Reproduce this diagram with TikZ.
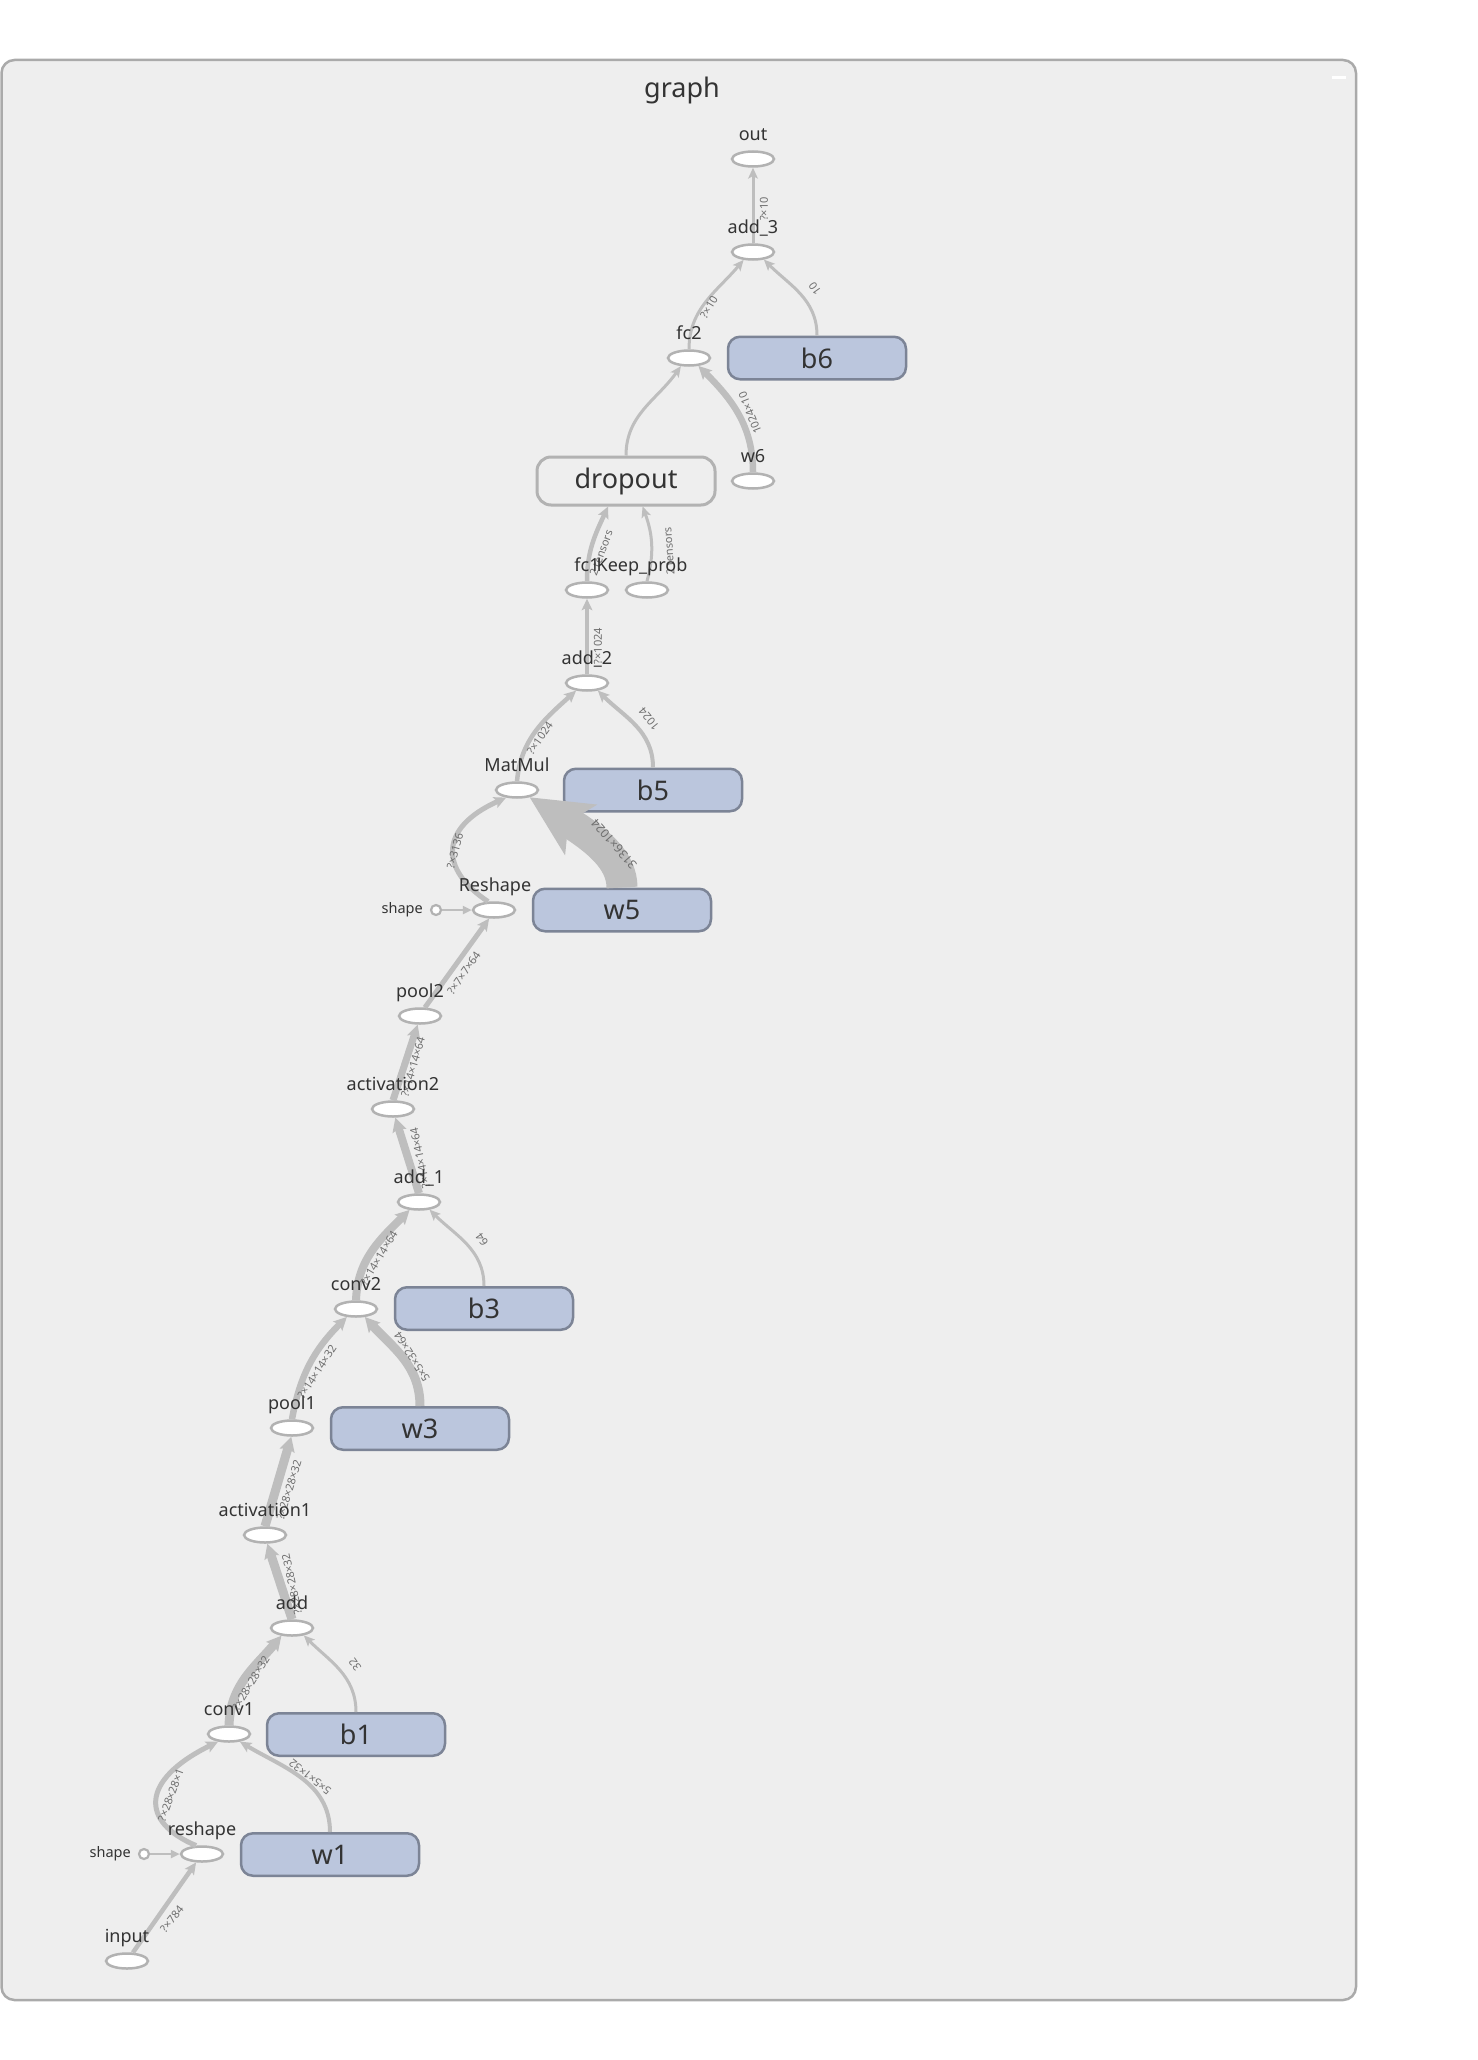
\documentclass[tikz,border=0pt]{standalone}
\usepackage{fontspec}
\setmainfont{Noto Sans}
\usetikzlibrary{arrows.meta,shapes.geometric}
\definecolor{bgc}{RGB}{238,238,238}
\definecolor{framec}{RGB}{170,170,170}
\definecolor{ellc}{RGB}{178,178,178}
\definecolor{edgec}{RGB}{190,190,190}
\definecolor{pfill}{RGB}{187,198,221}
\definecolor{pdraw}{RGB}{124,132,150}
\definecolor{txtc}{RGB}{51,51,51}
\definecolor{elc}{RGB}{110,110,110}
\begin{document}
\begin{tikzpicture}[x=1pt,y=1pt,
 op/.style={ellipse,draw=ellc,fill=white,line width=2.5pt,minimum width=42pt,minimum height=15pt,inner sep=0pt},
 param/.style={rectangle,rounded corners=12pt,draw=pdraw,fill=pfill,line width=2.5pt,minimum width=178pt,minimum height=42.5pt,inner sep=0pt,text=txtc,font=\fontsize{27pt}{30pt}\selectfont},
 meta/.style={rectangle,rounded corners=14pt,draw=ellc,fill=bgc,line width=3pt,minimum width=178pt,minimum height=48pt,inner sep=0pt,text=txtc,font=\fontsize{27pt}{30pt}\selectfont},
 oplab/.style={anchor=base,text=txtc,inner sep=0pt,font=\fontsize{18pt}{20pt}\selectfont},
 shlab/.style={anchor=east,text=txtc,inner sep=0pt,font=\fontsize{14.5pt}{16pt}\selectfont},
 elab/.style={text=elc,inner sep=0pt,font=\fontsize{11pt}{12pt}\selectfont},
 conn/.style={draw=edgec,line width=#1,-{Stealth[length=9pt 0.6,width=7pt 0.9,inset=2.5pt]}},
 conn/.default=3pt,
 shp/.style={circle,draw=ellc,fill=white,line width=2.2pt,minimum size=10pt,inner sep=0pt},
]
\useasboundingbox (0,0) rectangle (1477,-2060);
\draw[draw=framec,fill=bgc,line width=2.5pt,rounded corners=13pt] (1.5,-60) rectangle (1356,-2000);
\node[anchor=base,text=txtc,inner sep=0pt,font=\fontsize{27pt}{30pt}\selectfont] (title) at (682,-98) {graph};
\draw[white,line width=2.5pt] (1332,-77.5) -- (1346,-77.5);

% ops
\node[op] (out) at (753,-159) {};
\node[op] (add3) at (753,-252) {};
\node[op] (fc2) at (689,-358) {};
\node[param] (b6) at (817,-358) {b6};
\node[op] (w6) at (753,-481) {};
\node[meta] (dropout) at (626,-481) {dropout};
\node[op] (fc1) at (587,-590) {};
\node[op] (keep) at (647,-590) {};
\node[op] (add2) at (587,-683) {};
\node[op] (matmul) at (517,-790) {};
\node[param] (b5) at (653,-790) {b5};
\node[op] (Reshape) at (494,-910) {};
\node[shp] (shape2) at (436,-910) {};
\node[param] (w5) at (622,-910) {w5};
\node[op] (pool2) at (420,-1016) {};
\node[op] (act2) at (393,-1109) {};
\node[op] (add1) at (419,-1202) {};
\node[op] (conv2) at (356,-1309) {};
\node[param] (b3) at (484,-1308.5) {b3};
\node[param] (w3) at (420,-1428.5) {w3};
\node[op] (pool1) at (292,-1428) {};
\node[op] (act1) at (265,-1535) {};
\node[op] (add) at (292,-1628) {};
\node[op] (conv1) at (229,-1734) {};
\node[param] (b1) at (356,-1734.5) {b1};
\node[op] (reshape) at (202,-1854) {};
\node[shp] (shape1) at (144,-1854) {};
\node[param] (w1) at (330,-1854.5) {w1};
\node[op] (input) at (127,-1961) {};

% edges
\draw[conn=3pt] (add3.north) -- (out.south);
\draw[conn=3pt] (fc2.north) to[out=90,in=-130] (add3.-140);
\draw[conn=3pt] (b6.north) to[out=90,in=-45] (add3.-35);
\draw[conn=3pt] (dropout.north) to[out=90,in=-125] (fc2.-135);
\draw[conn=6.5pt] (w6.north) to[out=90,in=-45] (fc2.-40);
\draw[conn=4.5pt] (fc1.north) to[out=90,in=-115] (dropout.-125);
\draw[conn=3pt] (keep.north) to[out=75,in=-70] (dropout.-57);
\draw[conn=4pt] (add2.north) -- (fc1.south);
\draw[conn=4.5pt] (matmul.north) to[out=85,in=-138] (add2.-145);
\draw[conn=4pt] (b5.north) to[out=90,in=-45] (add2.-35);
\draw[conn=5pt] (Reshape.125) .. controls (440,-870) and (438,-828) .. (matmul.-145);
\draw[draw=edgec,line width=31pt,-{Stealth[length=60pt,width=58pt,inset=14pt]}] (w5.north) .. controls (622,-860) and (597,-840) .. (matmul.-30);
\draw[draw=edgec,line width=2.5pt,-{Triangle[length=9pt,width=8pt]}] (shape2.east) -- (Reshape.west);
\draw[conn=5pt] (pool2.60) -- (Reshape.-120);
\draw[conn=7pt] (act2.north) -- (pool2.-105);
\draw[conn=8pt] (add1.north) -- (act2.-75);
\draw[conn=8pt] (conv2.north) to[out=88,in=-135] (add1.-140);
\draw[conn=3pt] (b3.north) to[out=90,in=-45] (add1.-36);
\draw[conn=6.5pt] (pool1.north) to[out=80,in=-135] (conv2.-139);
\draw[conn=9pt] (w3.north) to[out=90,in=-48] (conv2.-42);
\draw[conn=9pt] (act1.north) -- (pool1.-95);
\draw[conn=9pt] (add.north) -- (act1.-75);
\draw[conn=9pt] (conv1.north) to[out=88,in=-130] (add.-144);
\draw[conn=3pt] (b1.north) to[out=90,in=-45] (add.-32);
\draw[conn=5pt] (reshape.125) .. controls (140,-1822) and (140,-1780) .. (conv1.-145);
\draw[conn=4pt] (w1.north) to[out=90,in=-31] (conv1.-35);
\draw[conn=4.5pt] (input.55) -- (reshape.-125);
\draw[draw=edgec,line width=2.5pt,-{Triangle[length=9pt,width=8pt]}] (shape1.east) -- (reshape.west);

% edge labels
\node[elab,rotate=90] (l1) at (764,-209) {?×10};
\node[elab,rotate=59] (l2) at (709,-307) {?×10};
\node[elab,rotate=125] (l3) at (815,-289) {10};
\node[elab,rotate=112] (l4) at (750,-413) {1024×10};
\node[elab,rotate=70] (l5) at (601,-553) {2 tensors};
\node[elab,rotate=94] (l6) at (669,-551) {2 tensors};
\node[elab,rotate=90] (l7) at (598,-646) {?×1024};
\node[elab,rotate=55] (l8) at (540,-738) {?×1024};
\node[elab,rotate=129] (l9) at (649,-719) {1024};
\node[elab,rotate=75] (l10) at (455,-851) {?×3136};
\node[elab,rotate=131,font=\fontsize{12pt}{13pt}\selectfont] (l11) at (614,-844) {3136×1024};
\node[elab,rotate=55] (l12) at (464,-973) {?×7×7×64};
\node[elab,rotate=74] (l13) at (413,-1067) {?×14×14×64};
\node[elab,rotate=102] (l14) at (420,-1158) {?×14×14×64};
\node[elab,rotate=59] (l15) at (379,-1258) {?×14×14×64};
\node[elab,rotate=125] (l16) at (482,-1240) {64};
\node[elab,rotate=57] (l17) at (317,-1372) {?×14×14×32};
\node[elab,rotate=122] (l18) at (412,-1357) {5×5×32×64};
\node[elab,rotate=73] (l19) at (289,-1490) {?×28×28×32};
\node[elab,rotate=102] (l20) at (292,-1584) {?×28×28×32};
\node[elab,rotate=59] (l21) at (251,-1683) {?×28×28×32};
\node[elab,rotate=125] (l22) at (355,-1665) {32};
\node[elab,rotate=70] (l23) at (171,-1795) {?×28×28×1};
\node[elab,rotate=141] (l24) at (310,-1777) {5×5×1×32};
\node[elab,rotate=51] (l25) at (172,-1919) {?×784};

% op labels
\node[oplab] (out-l) at (753,-140.5) {out};
\node[oplab] (add3-l) at (753,-233.5) {add\_3};
\node[oplab] (fc2-l) at (689,-339.5) {fc2};
\node[oplab] (w6-l) at (753,-462.5) {w6};
\node[oplab] (fc1-l) at (587,-571.5) {fc1};
\node[oplab] (keep-l) at (642,-571.5) {Keep\_prob};
\node[oplab] (add2-l) at (587,-664.5) {add\_2};
\node[oplab] (matmul-l) at (517,-771.5) {MatMul};
\node[oplab] (Reshape-l) at (495,-891.5) {Reshape};
\node[shlab] (shape2-l) at (423,-910) {shape};
\node[oplab] (pool2-l) at (420,-997.5) {pool2};
\node[oplab] (act2-l) at (393,-1090.5) {activation2};
\node[oplab] (add1-l) at (419,-1183.5) {add\_1};
\node[oplab] (conv2-l) at (356,-1290.5) {conv2};
\node[oplab] (pool1-l) at (292,-1409.5) {pool1};
\node[oplab] (act1-l) at (265,-1516.5) {activation1};
\node[oplab] (add-l) at (292,-1609.5) {add};
\node[oplab] (conv1-l) at (229,-1715.5) {conv1};
\node[oplab] (reshape-l) at (202,-1835.5) {reshape};
\node[shlab] (shape1-l) at (131,-1854) {shape};
\node[oplab] (input-l) at (127,-1942.5) {input};
\end{tikzpicture}
\end{document}
